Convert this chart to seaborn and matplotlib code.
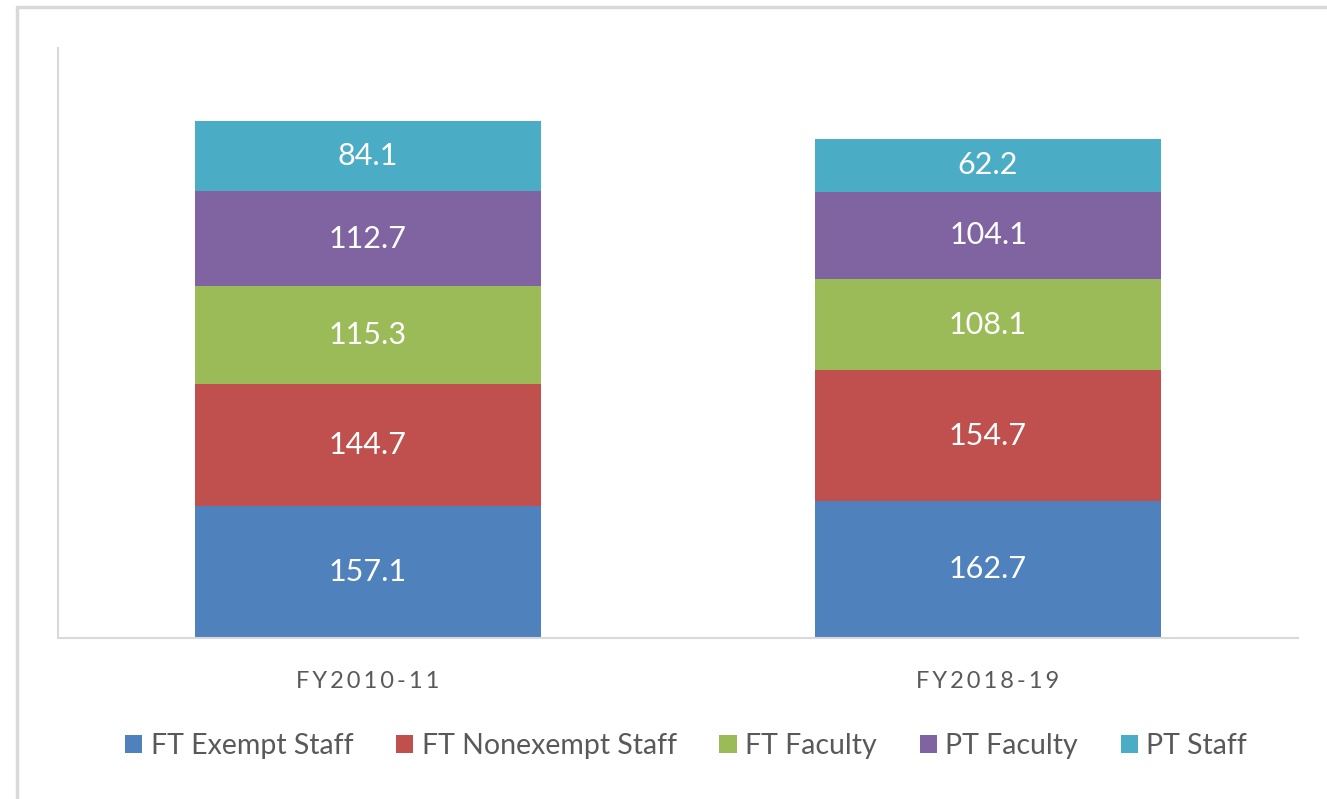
import pandas as pd
import matplotlib.pyplot as plt
import seaborn as sns
from matplotlib.patches import Patch
from matplotlib.lines import Line2D

years = ["FY2010-11", "FY2018-19"]
year_ticks = ["F\u2009Y\u20092\u20090\u20091\u20090\u2009-\u20091\u20091",
              "F\u2009Y\u20092\u20090\u20091\u20098\u2009-\u20091\u20099"]
groups = ["FT Exempt Staff", "FT Nonexempt Staff", "FT Faculty", "PT Faculty", "PT Staff"]
ft_exempt = [157.1, 162.7]
ft_nonexempt = [144.7, 154.7]
ft_faculty = [115.3, 108.1]
pt_faculty = [112.7, 104.1]
pt_staff = [84.1, 62.2]
colors = ["#4F81BD", "#C0504D", "#9BBB59", "#8064A2", "#4BACC6"]

sns.set_theme(style="white")
plt.rcParams["font.family"] = ["Lato", "DejaVu Sans"]

series = [ft_exempt, ft_nonexempt, ft_faculty, pt_faculty, pt_staff]

fig = plt.figure(figsize=(13.27, 7.99), dpi=100)
ax = fig.add_axes([58 / 1327, 1 - 638 / 799, 1240 / 1327, 590 / 799])

bottom = [0.0, 0.0]
for name, vals, col in zip(groups, series, colors):
    df = pd.DataFrame({"year": years, "value": vals})
    sns.barplot(data=df, x="year", y="value", color=col, width=0.558,
                bottom=bottom, ax=ax, saturation=1, linewidth=0, order=years)
    for i, v in enumerate(vals):
        ax.text(i, bottom[i] + v / 2, f"{v:.1f}", ha="center", va="center",
                color="white", fontsize=22)
    bottom = [b + v for b, v in zip(bottom, vals)]

ax.set_xlim(-0.5, 1.5)
ax.set_ylim(0, 700)
ax.set_xlabel("")
ax.set_ylabel("")
ax.set_yticks([])
ax.set_xticks(range(len(years)))
ax.set_xticklabels(year_ticks, fontsize=17, color="#595959")
ax.tick_params(axis="x", length=0, pad=24)
for s in ["top", "right"]:
    ax.spines[s].set_visible(False)
for s in ["left", "bottom"]:
    ax.spines[s].set_color("#D9D9D9")
    ax.spines[s].set_linewidth(1.5)

handles = [Patch(facecolor=c, edgecolor="none") for c in colors]
fig.legend(handles, groups, loc="center", bbox_to_anchor=(0.517, 1 - 746 / 799),
           ncol=5, frameon=False, fontsize=20.5, labelcolor="#595959",
           handlelength=0.6, handleheight=0.6, handletextpad=0.3, columnspacing=1.5)

# outer chart border
fig.add_artist(Line2D([17 / 1327, 1], [1 - 7 / 799, 1 - 7 / 799], color="#D9D9D9", linewidth=2.5))
fig.add_artist(Line2D([17 / 1327, 17 / 1327], [0, 1 - 7 / 799], color="#D9D9D9", linewidth=2.5))

fig.savefig("out.png", dpi=100)
